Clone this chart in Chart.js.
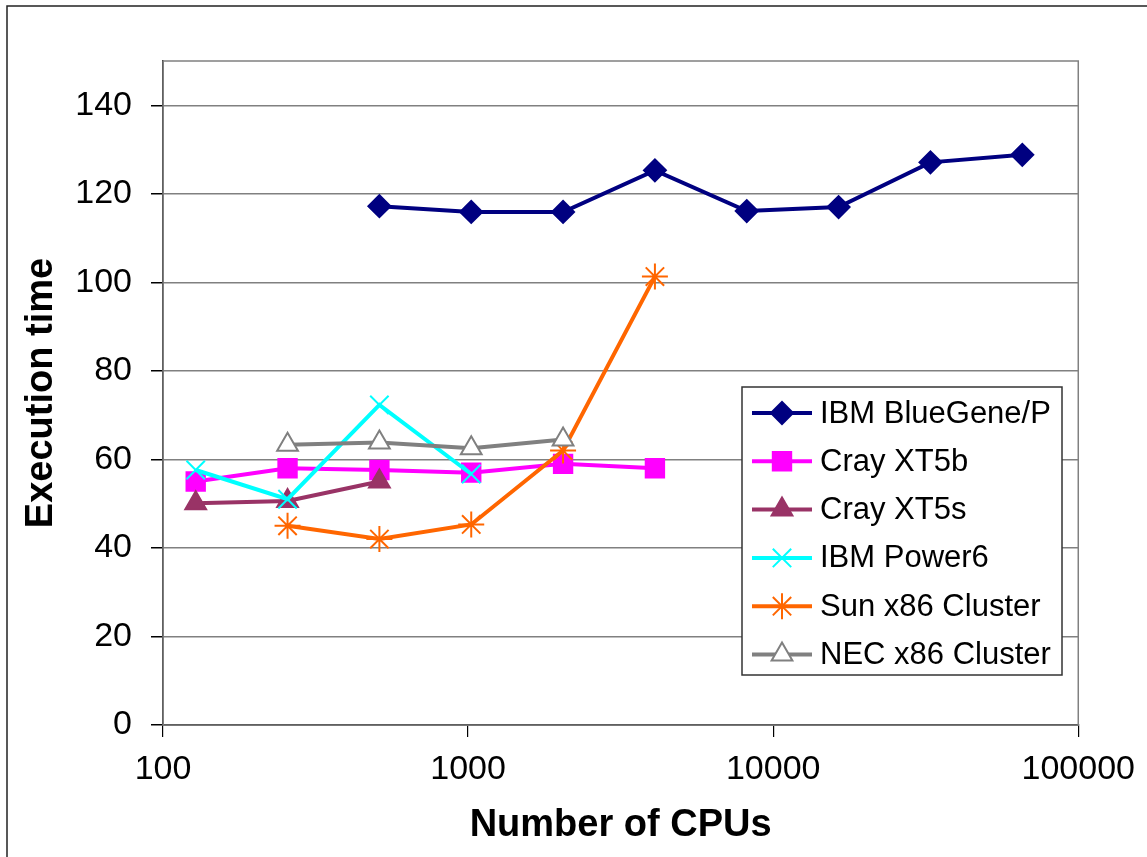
<!DOCTYPE html>
<html>
<head>
<meta charset="utf-8">
<script src="https://cdn.jsdelivr.net/npm/chart.js@4/dist/chart.umd.min.js"></script>
<style>
  body { margin: 0; background: #fff; }
  #wrap { width: 1147px; height: 857px; }
</style>
</head>
<body>
<div id="wrap"><canvas id="myChart" width="1147" height="857"></canvas></div>
<script>
'use strict';

// x values: number of CPUs
const cpus = [128, 256, 512, 1024, 2048, 4096, 8192, 16384, 32768, 65536];
// execution times (null = no point)
const blueGene = [null, null, 117.2, 115.9, 115.9, 125.3, 116.1, 117.0, 127.1, 128.8];
const crayXT5b = [55.0, 58.0, 57.6, 57.0, 59.0, 58.0];
const crayXT5s = [50.1, 50.6, 55.0];
const power6 = [57.6, 51.0, 72.3, 56.7];
const sunX86 = [null, 45.0, 42.0, 45.3, 62.0, 101.3];
const necX86 = [null, 63.3, 63.8, 62.5, 64.5];

const seriesNames = ['IBM BlueGene/P', 'Cray XT5b', 'Cray XT5s', 'IBM Power6', 'Sun x86 Cluster', 'NEC x86 Cluster'];
const xTicks = [100, 1000, 10000, 100000];
const yMax = 150;

const FONT = "'Liberation Sans', Arial, sans-serif";

// pairs the cpu counts with one series
function points(values){
  let out = [];
  for(let i = 0; i < values.length; i++){
    if(values[i] !== null){
      out.push({x: cpus[i], y: values[i]});
    }
  }
  return out;
}

function series(idx, values, color, style, fill, radius){
  return {
    label: seriesNames[idx],
    data: points(values),
    borderColor: color,
    backgroundColor: color,
    borderWidth: 4,
    pointStyle: style,
    pointRadius: radius,
    pointHoverRadius: radius,
    pointBackgroundColor: fill,
    pointBorderColor: color,
    pointBorderWidth: 2,
    tension: 0,
    order: 6 - idx //   later series drawn on top, like the original
  };
}

const datasets = [
  series(0, blueGene, '#000080', 'rectRot', '#000080', 11),
  series(1, crayXT5b, '#FF00FF', 'rect', '#FF00FF', 13),
  series(2, crayXT5s, '#993366', 'triangle', '#993366', 12),
  series(3, power6, '#00FFFF', 'crossRot', '#00FFFF', 13),
  series(4, sunX86, '#FF6600', 'star', '#FF6600', 13),
  series(5, necX86, '#808080', 'triangle', '#FFFFFF', 12)
];

// outer frame + gray plot box
const framePlugin = {
  id: 'frame',
  beforeDraw(chart){
    const ctx = chart.ctx;
    ctx.save();
    ctx.fillStyle = '#fff';
    ctx.fillRect(0, 0, chart.width, chart.height);
    ctx.strokeStyle = '#222';
    ctx.lineWidth = 1.5;
    ctx.strokeRect(7, 6, 1300, 1000);
    ctx.restore();
  },
  beforeDatasetsDraw(chart){
    const a = chart.chartArea;
    const ctx = chart.ctx;
    ctx.save();
    ctx.strokeStyle = '#808080';
    ctx.lineWidth = 1.5;
    ctx.strokeRect(a.left, a.top, a.right - a.left, a.bottom - a.top);
    ctx.restore();
  }
};

// legend box drawn inside the plot like the original
const boxLegend = {
  id: 'boxLegend',
  afterDatasetsDraw(chart){
    const ctx = chart.ctx;
    const left = 742, top = 387, w = 320, h = 288;
    ctx.save();
    ctx.fillStyle = '#fff';
    ctx.fillRect(left, top, w, h);
    ctx.strokeStyle = '#333';
    ctx.lineWidth = 1.5;
    ctx.strokeRect(left, top, w, h);
    chart.data.datasets.forEach(function(ds, i){
      const y = 413 + i * 48.3;
      ctx.strokeStyle = ds.borderColor;
      ctx.lineWidth = 4;
      ctx.beginPath();
      ctx.moveTo(752, y);
      ctx.lineTo(812, y);
      ctx.stroke();
      ctx.fillStyle = ds.pointBackgroundColor;
      ctx.strokeStyle = ds.pointBorderColor;
      ctx.lineWidth = ds.pointBorderWidth;
      Chart.helpers.drawPoint(ctx, {
        pointStyle: ds.pointStyle,
        radius: ds.pointRadius,
        rotation: 0,
        borderWidth: ds.pointBorderWidth
      }, 782, y);
      ctx.fillStyle = '#000';
      ctx.font = '31px ' + FONT;
      ctx.textBaseline = 'middle';
      ctx.textAlign = 'left';
      ctx.fillText(ds.label, 820, y + 1);
    });
    ctx.restore();
  }
};

const ctx = document.getElementById('myChart').getContext('2d');
const chart = new Chart(ctx, {
  type: 'line',
  data: { datasets: datasets },
  options: {
    responsive: false,
    animation: false,
    layout: { padding: { top: 61, right: 66, bottom: 9, left: 0 } },
    plugins: {
      legend: { display: false },
      tooltip: { enabled: false }
    },
    scales: {
      x: {
        type: 'logarithmic',
        min: 100,
        max: 100000,
        afterBuildTicks: function(scale){
          scale.ticks = xTicks.map(function(v){ return {value: v}; });
        },
        afterFit: function(scale){ scale.height = 123; },
        ticks: {
          color: '#000',
          font: { family: FONT, size: 34 },
          padding: 12,
          maxRotation: 0,
          autoSkip: false,
          callback: function(v){ return String(v); }
        },
        grid: { drawOnChartArea: false, color: '#000', tickLength: 12, lineWidth: 1.2 },
        border: { color: '#000', width: 1.5 },
        title: {
          display: true,
          text: 'Number of CPUs',
          color: '#000',
          font: { family: FONT, size: 38, weight: 'bold' },
          padding: 0
        }
      },
      y: {
        min: 0,
        max: yMax,
        afterFit: function(scale){ scale.width = 163; },
        ticks: {
          stepSize: 20,
          color: '#000',
          font: { family: FONT, size: 34 },
          padding: 19,
          callback: function(v){ return v === yMax ? '' : String(v); }
        },
        grid: {
          color: function(c){ return c.tick && c.tick.value === yMax ? 'rgba(0,0,0,0)' : '#808080'; },
          tickColor: function(c){ return c.tick && c.tick.value === yMax ? 'rgba(0,0,0,0)' : '#000'; },
          lineWidth: 1.5,
          tickLength: 12
        },
        border: { color: '#000', width: 1.5 },
        title: {
          display: true,
          text: 'Execution time',
          color: '#000',
          font: { family: FONT, size: 38, weight: 'bold' },
          padding: { top: 19, bottom: 0 }
        }
      }
    }
  },
  plugins: [framePlugin, boxLegend]
});
</script>
</body>
</html>
